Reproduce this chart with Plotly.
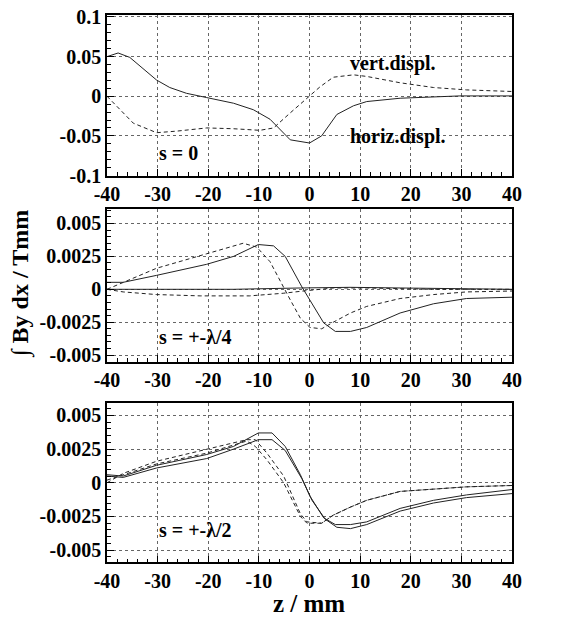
import plotly.graph_objects as go

# ---------------- data ----------------
# Panel 1 (s = 0)
p1_h_z = [-40, -37.8, -35.5, -30.2, -27.6, -24.3, -20.3, -15, -11.1, -7.8, -3.8, 0, 2.4, 5.4, 8.7, 11.3, 17.9, 24.5, 29.7, 40]
p1_h_v = [0.050, 0.0546, 0.049, 0.0204, 0.011, 0.0037, -0.0017, -0.0088, -0.017, -0.029, -0.055, -0.059, -0.050, -0.023, -0.012, -0.0067, -0.0025, -0.0004, 0.0004, 0.0004]
p1_v_z = [-40, -37.4, -34.8, -30.2, -26.2, -20.3, -15, -9.8, -7.1, -3.8, 0, 2.1, 4.7, 8.7, 11.3, 17.9, 24.5, 31, 40]
p1_v_v = [0.0, -0.017, -0.034, -0.046, -0.044, -0.040, -0.041, -0.043, -0.040, -0.021, 0.0, 0.012, 0.024, 0.027, 0.025, 0.017, 0.011, 0.008, 0.006]

# Panel 2 (s = +-lambda/4)
p2_s1_z = [-40, -36.8, -30.2, -20.3, -15, -10.1, -7.1, -4.8, -1.5, 0.5, 2.8, 5.1, 8.1, 11.3, 17.9, 24.5, 31, 40]
p2_s1_v = [0.00053, 0.00053, 0.00106, 0.0019, 0.0025, 0.0034, 0.0033, 0.0025, 0.00018, -0.0011, -0.00255, -0.0032, -0.0032, -0.0029, -0.0018, -0.0011, -0.0007, -0.0006]
p2_d1_z = [-40, -34.8, -30.2, -20.3, -15, -13.1, -10.4, -7.8, -3.8, -1.8, 0.1, 2.4, 4.7, 8.1, 11.3, 17.9, 24.5, 31, 40]
p2_d1_v = [0.0, 0.00088, 0.0016, 0.0027, 0.0033, 0.0035, 0.0032, 0.0021, -0.0008, -0.0022, -0.0029, -0.0030, -0.0025, -0.0018, -0.0013, -0.0007, -0.0004, -0.0002, -0.00013]
p2_s2_z = [-40, -15, -1.8, 8, 17.9, 40]
p2_s2_v = [0.0, 0.0, 0.0001, 0.00015, 0.0001, 0.0]
p2_d2_z = [-40, -36.8, -30.2, -21.6, -11.8, -5.2, -0.5, 4.7, 11.3, 24.5, 40]
p2_d2_v = [0.0, -0.0002, -0.0004, -0.0005, -0.0005, -0.0003, -0.0001, 0.0001, 0.0001, 0.0, 0.0]

# Panel 3 (s = +-lambda/2)
p3_s1_z = [-40, -36.8, -30.2, -20.3, -15, -10.1, -7.4, -4.8, -1.8, 0.1, 2.8, 5.1, 8.1, 11.3, 17.9, 24.5, 31, 40]
p3_s1_v = [0.0006, 0.0005, 0.0013, 0.0021, 0.0027, 0.0037, 0.0037, 0.0027, 0.0006, -0.0010, -0.0026, -0.0031, -0.0031, -0.0029, -0.0019, -0.0013, -0.0009, -0.0005]
p3_s2_z = [-40, -36.8, -30.2, -20.3, -15, -10.1, -7.4, -4.8, -1.5, 0.5, 3.1, 5.4, 8.1, 11.3, 17.9, 24.5, 31, 40]
p3_s2_v = [0.0005, 0.0004, 0.0011, 0.0018, 0.0025, 0.0032, 0.0032, 0.0024, 0.0003, -0.0013, -0.0027, -0.0033, -0.0034, -0.0031, -0.0021, -0.0015, -0.0011, -0.0008]
p3_d1_z = [-40, -36.8, -30.2, -20.3, -12.4, -10.7, -8.4, -5.1, -1.8, -0.5, 2.4, 4.7, 8.1, 11.3, 17.9, 24.5, 31, 40]
p3_d1_v = [0.0, 0.0007, 0.0016, 0.0025, 0.0032, 0.0032, 0.0022, 0.0005, -0.0023, -0.0029, -0.0030, -0.0024, -0.0018, -0.0013, -0.00064, -0.00047, -0.0003, -0.0002]
p3_d2_z = [-40, -36.8, -30.2, -20.3, -12.4, -10.7, -8.4, -5.1, -1.8, -0.5, 2.4, 4.7, 8.1, 11.3, 17.9, 24.5, 31, 40]
p3_d2_v = [0.0002, 0.0006, 0.0014, 0.0022, 0.0031, 0.0027, 0.0017, 0.0, -0.0025, -0.0030, -0.0030, -0.0024, -0.0018, -0.0013, -0.00064, -0.00047, -0.0003, -0.0002]

# Tick labels
x_tickvals = [-40, -30, -20, -10, 0, 10, 20, 30, 40]
x_ticktext = ["-40", "-30", "-20", "-10", "0", "10", "20", "30", "40"]
y1_tickvals = [-0.1, -0.05, 0, 0.05, 0.1]
y1_ticktext = ["-0.1", "-0.05", "0", "0.05", "0.1"]
y23_tickvals = [-0.005, -0.0025, 0, 0.0025, 0.005]
y23_ticktext = ["-0.005", "-0.0025", "0", "0.0025", "0.005"]

# ---------------- figure ----------------
W, H = 571, 617
FONT = "Liberation Serif"

def py(px):
    return 1 - px / H

fig = go.Figure()

solid = dict(color="#222", width=1)
dashed = dict(color="#222", width=1, dash="4px,3px")

def add(z, v, line, ax):
    fig.add_trace(go.Scatter(x=z, y=v, mode="lines", line=line, xaxis="x" + ax, yaxis="y" + ax,
                             showlegend=False, hoverinfo="skip"))

add(p1_h_z, p1_h_v, solid, "")
add(p1_v_z, p1_v_v, dashed, "")
add(p2_s2_z, p2_s2_v, solid, "2")
add(p2_d2_z, p2_d2_v, dashed, "2")
add(p2_s1_z, p2_s1_v, solid, "2")
add(p2_d1_z, p2_d1_v, dashed, "2")
add(p3_s1_z, p3_s1_v, solid, "3")
add(p3_s2_z, p3_s2_v, solid, "3")
add(p3_d1_z, p3_d1_v, dashed, "3")
add(p3_d2_z, p3_d2_v, dashed, "3")

xdom = [107 / W, 512 / W]
tickfont = dict(family=FONT, size=20, color="black", weight="bold")

common = dict(ticks="inside", ticklen=7, tickcolor="black", showline=True, linecolor="black",
              linewidth=1.5, mirror=True, showgrid=True, gridcolor="#666", griddash="dot",
              gridwidth=1, zeroline=False, tickfont=tickfont, automargin=False, tickmode="array")

def xaxis(anchor):
    return dict(domain=xdom, anchor=anchor, range=[-40, 40],
                tickvals=x_tickvals, ticktext=x_ticktext,
                minor=dict(tick0=0, dtick=2, ticks="inside", ticklen=4, tickcolor="black", showgrid=False),
                **common)

def yaxis(anchor, dom, rng, tv, tt, mdt):
    return dict(domain=dom, anchor=anchor, range=rng, tickvals=tv, ticktext=tt,
                minor=dict(tick0=0, dtick=mdt, ticks="inside", ticklen=4, tickcolor="black", showgrid=False),
                **common)

fig.update_layout(
    template="none",
    width=W, height=H,
    margin=dict(l=0, r=0, t=0, b=0, autoexpand=False),
    paper_bgcolor="white", plot_bgcolor="white",
    xaxis=xaxis("y"),
    xaxis2=xaxis("y2"),
    xaxis3=xaxis("y3"),
    yaxis=yaxis("x", [py(175.5), py(15)], [-0.1, 0.1025], y1_tickvals, y1_ticktext, 0.01),
    yaxis2=yaxis("x2", [py(361.7), py(209)], [-0.0055, 0.0061], y23_tickvals, y23_ticktext, 0.0005),
    yaxis3=yaxis("x3", [py(562.3), py(403.3)], [-0.0059, 0.0059], y23_tickvals, y23_ticktext, 0.0005),
)

afont = dict(family=FONT, size=20, color="black")

def note(text, xpx, ypx, **kw):
    d = dict(text=text, x=xpx / W, y=py(ypx), xref="paper", yref="paper", showarrow=False,
             xanchor="center", yanchor="middle", font=afont)
    d.update(kw)
    return d

ann = [
    note("<b>vert.displ.</b>", 393, 63),
    note("<b>horiz.displ.</b>", 398, 137),
    note("<b>s = 0</b>", 178, 153),
    note("<b>s = +-λ/4</b>", 195, 337),
    note("<b>s = +-λ/2</b>", 195, 530),
    note("<b>∫ By dx / Tmm</b>", 21, 284, textangle=-90, font=dict(family=FONT, size=24, color="black")),
    note("<b>z / mm</b>", 309, 603, font=dict(family=FONT, size=25, color="black")),
]
fig.update_layout(annotations=ann)

fig.write_html("out.html")
